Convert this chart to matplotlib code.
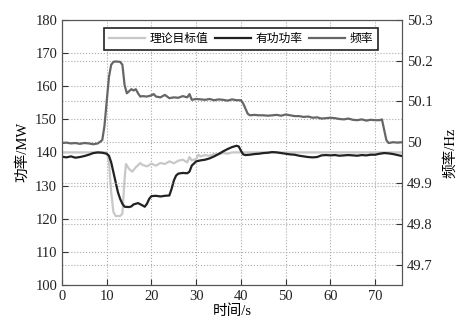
import numpy as np
import matplotlib
matplotlib.use('Agg')
import matplotlib.pyplot as plt

plt.rcParams['font.family'] = ['Liberation Serif', 'Noto Sans CJK SC']
plt.rcParams['font.size'] = 10.5

# 理论目标值 (MW)
t_target = [0, 5, 10, 10.5, 11, 11.5, 12, 13, 13.5, 14, 14.3, 15, 15.7, 16.5, 17.5, 18, 19, 20,
            21, 22, 23, 24, 25, 26, 27, 28, 28.5, 29, 30, 30.5, 31, 32, 33, 34, 35, 36, 37, 38,
            40, 50, 60, 70, 76]
p_target = [140, 140, 140, 137, 128, 122, 120.8, 120.8, 121.5, 132, 136.5, 135, 134.2, 135.5,
            136.8, 136.2, 135.8, 136.6, 136.0, 136.8, 136.5, 137.3, 136.7, 137.5, 137.8, 137.0,
            138.6, 137.6, 138.0, 139.3, 138.8, 139.2, 139.0, 139.5, 139.4, 139.8, 139.6, 140.0,
            140.0, 140.0, 140.0, 140.0, 140.0]

# 有功功率 (MW)
t_power = [0, 1, 2, 3, 4, 5, 6, 7, 8, 9, 10, 10.5, 11, 11.5, 12, 12.5, 13, 13.5, 14, 15, 15.5,
           16, 17, 18, 18.5, 19, 19.5, 20, 21, 22, 23, 24, 24.5, 25, 25.5, 26, 27, 28, 28.5, 29,
           30, 31, 32, 33, 34, 35, 36, 37, 38, 39, 39.5, 40, 40.5, 41, 42, 43, 44, 45, 46, 47,
           48, 49, 50, 51, 52, 53, 54, 55, 56, 57, 58, 59, 60, 61, 62, 63, 64, 65, 66, 67, 68,
           69, 70, 71, 72, 73, 74, 75, 76]
p_power = [138.7, 138.5, 138.8, 138.4, 138.6, 138.9, 139.3, 139.8, 140.0, 139.9, 139.6, 139.0,
           137.0, 134.0, 131.0, 128.0, 126.0, 124.5, 123.6, 123.5, 123.7, 124.3, 124.7, 124.0,
           123.6, 124.5, 126.0, 126.8, 126.9, 126.7, 126.9, 127.0, 129.0, 131.5, 133.0, 133.6,
           133.8, 133.7, 134.2, 136.0, 137.3, 137.6, 137.8, 138.2, 138.8, 139.5, 140.3, 141.0,
           141.6, 142.0, 141.8, 140.5, 139.4, 139.2, 139.3, 139.5, 139.6, 139.8, 139.9, 140.1,
           140.0, 139.8, 139.6, 139.4, 139.3, 139.0, 138.8, 138.6, 138.5, 138.6, 139.1, 139.2,
           139.1, 139.2, 139.0, 139.1, 139.2, 139.1, 139.0, 139.2, 139.1, 139.3, 139.3, 139.6,
           139.8, 139.7, 139.5, 139.2, 138.9]

# 频率 (Hz)
t_freq = [0, 1, 2, 3, 4, 5, 6, 7, 8, 9, 9.5, 10, 10.5, 11, 11.5, 12, 13, 13.5, 14, 14.5, 15,
          15.5, 16, 16.5, 17, 17.5, 18, 19, 20, 20.5, 21, 22, 23, 24, 25, 26, 27, 28, 28.5, 29,
          30, 31, 32, 33, 34, 35, 36, 37, 38, 39, 40, 40.5, 41.5, 42, 43, 44, 45, 46, 47, 48,
          49, 50, 51, 52, 53, 54, 55, 56, 57, 58, 59, 60, 61, 62, 63, 64, 65, 66, 67, 68, 69,
          70, 71, 71.5, 72.5, 73, 74, 75, 76]
f_freq = [49.998, 49.999, 49.997, 49.998, 49.996, 49.998, 49.997, 49.995, 49.997, 50.005,
          50.04, 50.10, 50.16, 50.19, 50.197, 50.198, 50.197, 50.19, 50.14, 50.12, 50.125,
          50.13, 50.127, 50.13, 50.12, 50.112, 50.113, 50.112, 50.115, 50.118, 50.112, 50.11,
          50.116, 50.108, 50.11, 50.109, 50.113, 50.11, 50.118, 50.104, 50.106, 50.105, 50.104,
          50.106, 50.103, 50.105, 50.104, 50.102, 50.105, 50.103, 50.103, 50.095, 50.07, 50.066,
          50.067, 50.066, 50.066, 50.065, 50.066, 50.067, 50.065, 50.068, 50.066, 50.064,
          50.064, 50.062, 50.063, 50.060, 50.061, 50.058, 50.059, 50.060, 50.059, 50.057,
          50.056, 50.058, 50.055, 50.054, 50.056, 50.053, 50.055, 50.054, 50.054, 50.056,
          50.005, 49.998, 50.0, 49.999, 50.0]

fig = plt.figure(figsize=(4.73, 3.26), dpi=100)
ax = fig.add_axes([0.131, 0.126, 0.719, 0.813])
ax2 = ax.twinx()

l1, = ax.plot(t_target, p_target, color='#c8c8c8', lw=1.6, label='理论目标值')
l2, = ax.plot(t_power, p_power, color='#222222', lw=1.6, label='有功功率')
l3, = ax2.plot(t_freq, f_freq, color='#666666', lw=1.6, label='频率')

ax.set_xlim(0, 76)
ax.set_ylim(100, 180)
ax.set_yticks(np.arange(100, 181, 10))
ax.set_xticks(np.arange(0, 71, 10))
ax2.set_ylim(49.65, 50.3)
ax2.set_yticks([49.7, 49.8, 49.9, 50.0, 50.1, 50.2, 50.3])
ax2.set_yticklabels(['49.7', '49.8', '49.9', '50', '50.1', '50.2', '50.3'])

for a in (ax, ax2):
    a.tick_params(direction='in', length=4, colors='#333333', labelcolor='#222222')
    for s in a.spines.values():
        s.set_color('#555555')
ax.grid(True, linestyle=':', color='#aaaaaa', lw=0.8)
ax2.grid(True, axis='y', linestyle=':', color='#aaaaaa', lw=0.8)

ax.set_xlabel('时间/s', labelpad=1)
ax.set_ylabel('功率/MW', labelpad=4)
ax2.set_ylabel('频率/Hz', labelpad=8)

leg = ax2.legend(handles=[l1, l2, l3], loc='upper center', bbox_to_anchor=(0.527, 0.97),
                 ncol=3, frameon=True, fancybox=False, fontsize=8.5, handlelength=3.0,
                 columnspacing=0.6, handletextpad=0.4, borderpad=0.45, borderaxespad=0)
leg.get_frame().set_edgecolor('#222222')
leg.get_frame().set_linewidth(1.2)
leg.get_frame().set_alpha(1)

fig.savefig('out.png', dpi=100)
